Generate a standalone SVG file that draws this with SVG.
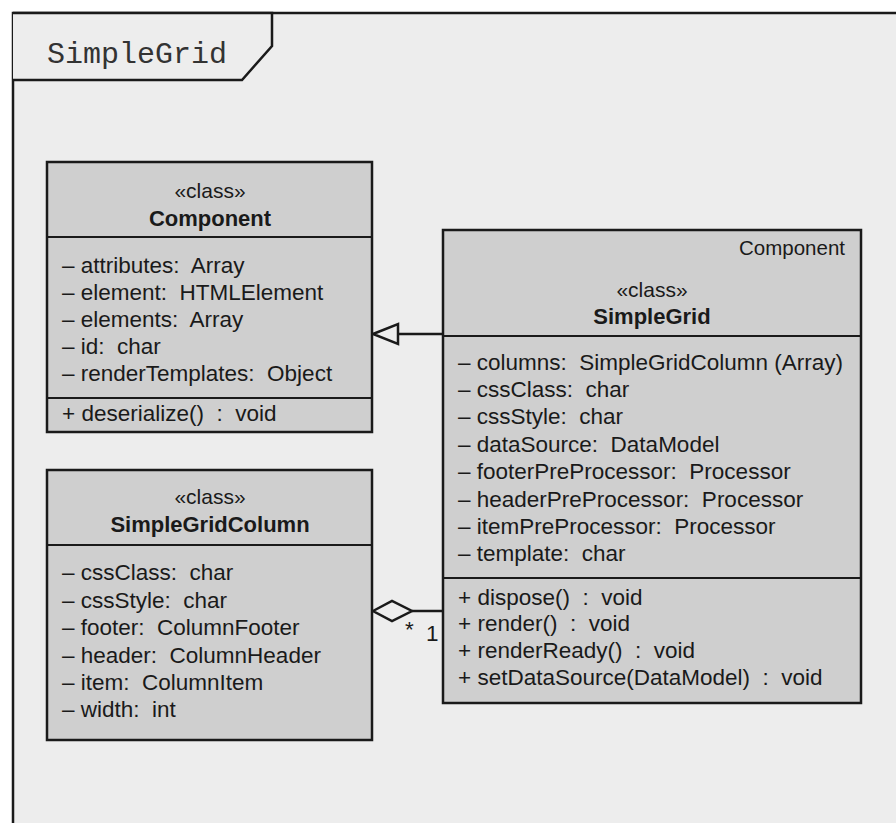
<svg xmlns="http://www.w3.org/2000/svg" width="896" height="823" viewBox="0 0 896 823" xml:space="preserve">
<style>
.box{fill:#cfcfcf;stroke:#1a1a1a;stroke-width:2.5}
.sep{stroke:#1a1a1a;stroke-width:2}
.t{font-family:"Liberation Sans",Arial,sans-serif;font-size:22.5px;fill:#1a1a1a;white-space:pre}
.st{font-family:"Liberation Sans",Arial,sans-serif;font-size:21px;fill:#1a1a1a;text-anchor:middle}
.nm{font-family:"Liberation Sans",Arial,sans-serif;font-size:22px;font-weight:bold;fill:#1a1a1a;text-anchor:middle}
.ln{fill:none;stroke:#1a1a1a;stroke-width:2.5}
</style>
<rect x="0" y="0" width="896" height="823" fill="#ffffff"/>
<rect x="13" y="13" width="900" height="830" fill="#ededed" stroke="#1a1a1a" stroke-width="2.5"/>
<g id="frame-tab">
<path d="M13,13 L272,13 L272,46 L242,80 L13,80" fill="#ededed" stroke="#1a1a1a" stroke-width="2.5"/>
<text x="47" y="63" font-family="Liberation Mono,'Courier New',monospace" font-size="30" fill="#333">SimpleGrid</text>
</g>
<g id="connectors">
<line class="ln" x1="443" y1="334" x2="398" y2="334"/>
<polygon points="373,334 398,324 398,344" fill="#ededed" stroke="#1a1a1a" stroke-width="2.5"/>
<line class="ln" x1="443" y1="611" x2="412" y2="611"/>
<polygon points="373,611 392,601 412,611 392,621" fill="#ededed" stroke="#1a1a1a" stroke-width="2.5"/>
<text class="t" x="405" y="637">*</text>
<text class="t" x="426" y="641">1</text>
</g>
<g id="Component">
<rect class="box" x="47" y="162" width="325" height="270"/>
<line class="sep" x1="47" y1="237" x2="372" y2="237"/>
<line class="sep" x1="47" y1="398" x2="372" y2="398"/>
<text class="st" x="210" y="198">«class»</text>
<text class="nm" x="210" y="226">Component</text>
<text class="t" x="62" y="273">– attributes:  Array</text>
<text class="t" x="62" y="300">– element:  HTMLElement</text>
<text class="t" x="62" y="327">– elements:  Array</text>
<text class="t" x="62" y="354">– id:  char</text>
<text class="t" x="62" y="381">– renderTemplates:  Object</text>
<text class="t" x="62" y="421">+ deserialize()  :  void</text>
</g>
<g id="SimpleGridColumn">
<rect class="box" x="47" y="470" width="325" height="270"/>
<line class="sep" x1="47" y1="545" x2="372" y2="545"/>
<text class="st" x="210" y="504">«class»</text>
<text class="nm" x="210" y="532">SimpleGridColumn</text>
<text class="t" x="62" y="580">– cssClass:  char</text>
<text class="t" x="62" y="608">– cssStyle:  char</text>
<text class="t" x="62" y="635">– footer:  ColumnFooter</text>
<text class="t" x="62" y="663">– header:  ColumnHeader</text>
<text class="t" x="62" y="690">– item:  ColumnItem</text>
<text class="t" x="62" y="717">– width:  int</text>
</g>
<g id="SimpleGrid">
<rect class="box" x="443" y="230" width="418" height="473"/>
<line class="sep" x1="443" y1="336" x2="861" y2="336"/>
<line class="sep" x1="443" y1="578" x2="861" y2="578"/>
<text class="t" x="845" y="255" text-anchor="end" style="font-size:20.5px">Component</text>
<text class="st" x="652" y="297">«class»</text>
<text class="nm" x="652" y="324">SimpleGrid</text>
<text class="t" x="458" y="370">– columns:  SimpleGridColumn (Array)</text>
<text class="t" x="458" y="397">– cssClass:  char</text>
<text class="t" x="458" y="424">– cssStyle:  char</text>
<text class="t" x="458" y="452">– dataSource:  DataModel</text>
<text class="t" x="458" y="479">– footerPreProcessor:  Processor</text>
<text class="t" x="458" y="507">– headerPreProcessor:  Processor</text>
<text class="t" x="458" y="534">– itemPreProcessor:  Processor</text>
<text class="t" x="458" y="561">– template:  char</text>
<text class="t" x="458" y="605">+ dispose()  :  void</text>
<text class="t" x="458" y="631">+ render()  :  void</text>
<text class="t" x="458" y="658">+ renderReady()  :  void</text>
<text class="t" x="458" y="685">+ setDataSource(DataModel)  :  void</text>
</g>
</svg>
